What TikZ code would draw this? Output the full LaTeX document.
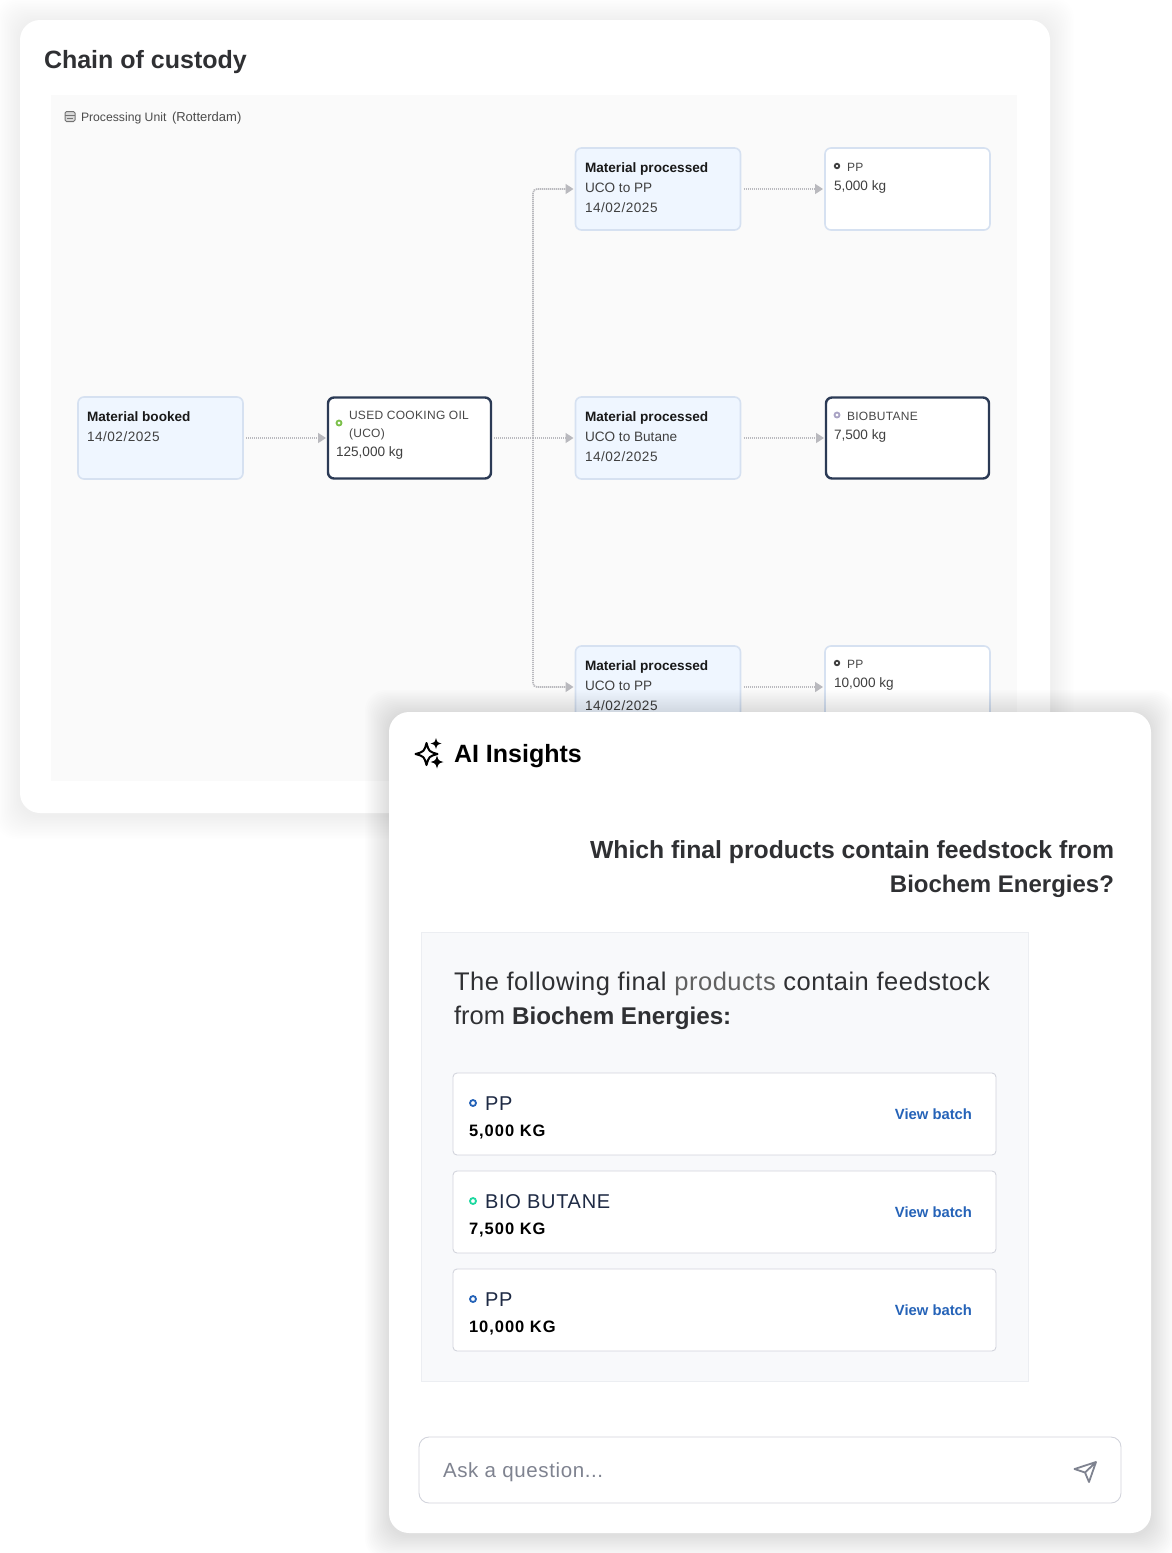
\documentclass[tikz,border=0pt]{standalone}
\usepackage{fontspec}
\setmainfont{Liberation Sans}
\usetikzlibrary{arrows.meta}
\definecolor{ink}{HTML}{2F3033}
\definecolor{lineg}{HTML}{B9B9BE}
\definecolor{bluefill}{HTML}{EFF6FF}
\definecolor{blueline}{HTML}{D6E1F1}
\definecolor{navy}{HTML}{2B3A55}
\definecolor{itemline}{HTML}{D2D4DC}
\definecolor{linkblue}{HTML}{2563B8}
\definecolor{greytxt}{HTML}{7F8390}
\definecolor{answerbg}{HTML}{F8F9FB}
\definecolor{answerline}{HTML}{ECEEF2}
\definecolor{itemink}{HTML}{1E2A44}
\definecolor{dotteal}{HTML}{1ED8A0}
\definecolor{dotlime}{HTML}{7CC04A}
\definecolor{dotlilac}{HTML}{A9A3C4}
\newcommand{\fs}[1]{\fontsize{#1}{#1}\selectfont}
\newcommand{\softshadow}[5]{%
  \foreach \i in {1,...,16}{
    \fill[black,opacity=#5,rounded corners=20pt] ({#1-\i*1.5},{#2-\i*1.5+2}) rectangle ({#3+\i*1.5},{#4+\i*1.5+2});
  }}
\newcommand{\sparkle}[3]{%
  (#1,#2-#3) .. controls (#1+.22*#3,#2-.22*#3) .. (#1+#3,#2) .. controls (#1+.22*#3,#2+.22*#3) .. (#1,#2+#3) .. controls (#1-.22*#3,#2+.22*#3) .. (#1-#3,#2) .. controls (#1-.22*#3,#2-.22*#3) .. cycle}
\tikzset{
  panel/.style={draw=none,fill=white,rounded corners=20pt,inner sep=0pt,outer sep=0pt},
  cardbase/.style={rounded corners=6pt,inner sep=0pt,outer sep=0pt,minimum width=165pt,minimum height=82pt},
  evcard/.style={cardbase,draw=blueline,line width=1.6pt,fill=bluefill},
  outcard/.style={cardbase,draw=blueline,line width=1.6pt,fill=white},
  selcard/.style={cardbase,draw=navy,line width=2.4pt,fill=white},
  itemcard/.style={draw=itemline,line width=.9pt,fill=white,rounded corners=4pt,minimum width=543pt,minimum height=82pt,inner sep=0pt,outer sep=0pt},
  txt/.style={anchor=base west,inner sep=0pt,outer sep=0pt,text=ink},
  rtxt/.style={anchor=base east,inner sep=0pt,outer sep=0pt,text=ink},
  small/.style={txt,font=\fs{13.6},text=black!75},
  smalld/.style={txt,font=\fs{13.6}\addfontfeature{LetterSpace=3.7},text=black!75},
  smallb/.style={txt,font=\fs{13.6}\bfseries,text=black!90},
  caps/.style={txt,font=\fs{12}\addfontfeature{LetterSpace=2.5},text=black!72},
  flow/.style={draw=lineg,line width=1.6pt,dash pattern=on 1.2pt off .8pt,-{Triangle[length=8pt,width=10pt,fill=lineg,sep=0pt]},shorten >=2pt,shorten <=3pt},
  flowfree/.style={draw=lineg,line width=1.6pt,dash pattern=on 1.2pt off .8pt},
  ringdot/.style={circle,draw=#1,line width=1.8pt,fill=white,minimum size=6pt,inner sep=0pt,outer sep=0pt},
  itemname/.style={txt,font=\fs{20}\addfontfeature{LetterSpace=3.5},text=itemink},
  itemkg/.style={txt,font=\fs{16.5}\bfseries\addfontfeature{LetterSpace=6},text=black},
  viewlink/.style={rtxt,font=\fs{14.8}\bfseries,text=linkblue},
}
\begin{document}
\begin{tikzpicture}[x=1pt,y=-1pt]
\useasboundingbox (0,0) rectangle (1171,1553);
\fill[white] (0,0) rectangle (1171,1553);
% first panel
\softshadow{20}{20}{1050}{813}{0.004}
\node[panel,minimum width=1030pt,minimum height=793pt] (custody) at (535,416.5) {};
\node[txt,font=\fs{25}\bfseries] (title) at (44,68) {Chain of custody};
\node[fill=black!2,inner sep=0pt,outer sep=0pt,minimum width=966pt,minimum height=686pt] (canvas) at (534,438) {};
% unit label
\draw[black!55,line width=1pt,fill=black!15,rounded corners=1.5pt] (65,111.5) rectangle (75,121.5);
\draw[black!55,line width=.8pt] (65,115) -- (75,115) (67,118.5) -- (73,118.5);
\node[txt,font=\fs{12.2},text=black!70] (unit) at (81,121) {Processing Unit};
\node[txt,font=\fs{13},text=black!70] (city) at (172,121) {(Rotterdam)};
% cards
\node[evcard] (booked) at (160.5,438) {};
\node[selcard,minimum width=163pt,minimum height=81pt] (uco) at (409.5,438) {};
\node[evcard] (procA) at (658,189) {};
\node[evcard] (procB) at (658,438) {};
\node[evcard] (procC) at (658,687) {};
\node[outcard] (outA) at (907.5,189) {};
\node[selcard,minimum width=163pt,minimum height=81pt] (outB) at (907.5,438) {};
\node[outcard] (outC) at (907.5,687) {};
% connectors
\coordinate (branch) at (533,438);
\draw[flow] (booked.east) -- (uco.west);
\draw[flowfree,shorten <=3pt] (uco.east) -- (branch);
\draw[flow,shorten <=0pt,rounded corners=4pt] (branch) |- (procA.west);
\draw[flow,shorten <=0pt] (branch) -- (procB.west);
\draw[flow,shorten <=0pt,rounded corners=4pt] (branch) |- (procC.west);
\draw[flow] (procA.east) -- (outA.west);
\draw[flow] (procB.east) -- (outB.west);
\draw[flow] (procC.east) -- (outC.west);
% card texts
\node[smallb] (t1) at (87,421) {Material booked};
\node[smalld] (t2) at (87,441) {14/02/2025};
\node[ringdot=dotlime,minimum size=5pt] (d1) at (339,423) {};
\node[caps] (t3) at (349,419) {USED COOKING OIL};
\node[caps] (t4) at (349,437) {(UCO)};
\node[small] (t5) at (336,456) {125,000 kg};
\node[smallb] (a1) at (585,172) {Material processed};
\node[small] (a2) at (585,192) {UCO to PP};
\node[smalld] (a3) at (585,212) {14/02/2025};
\node[smallb] (b1) at (585,421) {Material processed};
\node[small] (b2) at (585,441) {UCO to Butane};
\node[smalld] (b3) at (585,461) {14/02/2025};
\node[smallb] (c1) at (585,670) {Material processed};
\node[small] (c2) at (585,690) {UCO to PP};
\node[smalld] (c3) at (585,710) {14/02/2025};
\node[ringdot={black!75},minimum size=4.5pt] (d2) at (837,166) {};
\node[caps] (oa1) at (847,171) {PP};
\node[small] (oa2) at (834,190) {5,000 kg};
\node[ringdot=dotlilac,minimum size=5pt] (d3) at (837,415) {};
\node[caps] (ob1) at (847,420) {BIOBUTANE};
\node[small] (ob2) at (834,439) {7,500 kg};
\node[ringdot={black!75},minimum size=4.5pt] (d4) at (837,663) {};
\node[caps] (oc1) at (847,668) {PP};
\node[small] (oc2) at (834,687) {10,000 kg};
% AI panel
\softshadow{389}{712}{1151}{1533}{0.006}
\node[panel,minimum width=762pt,minimum height=821pt] (insights) at (770,1122.5) {};
\draw[black,line width=2pt,line join=round,fill=white] \sparkle{426.5}{754}{11};
\fill[black] \sparkle{436}{743.5}{5.5};
\fill[black] \sparkle{437}{762}{6.5};
\node[txt,font=\fs{25}\bfseries,text=black] (aititle) at (454,762) {AI Insights};
\node[rtxt,font=\fs{24.75}\bfseries] (q1) at (1114,858) {Which final products contain feedstock from};
\node[rtxt,font=\fs{24}\bfseries] (q2) at (1114,892) {Biochem Energies?};
\node[draw=answerline,line width=1pt,fill=answerbg,inner sep=0pt,outer sep=0pt,minimum width=607pt,minimum height=449pt] (answer) at (724.5,1156.5) {};
\node[txt,font=\fs{25.5}\addfontfeature{LetterSpace=2.1}] (ans1) at (454,990) {The following final {\color{black!62}products} contain feedstock};
\node[txt,font=\fs{25.5}] (ans2) at (454,1024) {from {\fs{24.2}\bfseries Biochem Energies:}};
% items
\node[itemcard] (item1) at (724.5,1114) {};
\node[itemcard] (item2) at (724.5,1212) {};
\node[itemcard] (item3) at (724.5,1310) {};
\node[ringdot={linkblue}] (i1d) at (473,1103) {};
\node[itemname] (i1n) at (485,1110) {PP};
\node[itemkg] (i1k) at (469,1136) {5,000 KG};
\node[viewlink] (i1v) at (972,1119) {View batch};
\node[ringdot=dotteal] (i2d) at (473,1201) {};
\node[itemname] (i2n) at (485,1208) {BIO BUTANE};
\node[itemkg] (i2k) at (469,1234) {7,500 KG};
\node[viewlink] (i2v) at (972,1217) {View batch};
\node[ringdot={linkblue}] (i3d) at (473,1299) {};
\node[itemname] (i3n) at (485,1306) {PP};
\node[itemkg] (i3k) at (469,1332) {10,000 KG};
\node[viewlink] (i3v) at (972,1315) {View batch};
% input
\node[draw=itemline,line width=.9pt,fill=white,rounded corners=10pt,inner sep=0pt,outer sep=0pt,minimum width=702pt,minimum height=66pt] (input) at (770,1470) {};
\node[txt,font=\fs{20.5}\addfontfeature{LetterSpace=3},text=greytxt] (ask) at (443,1477) {Ask a question...};
\draw[greytxt,line width=1.8pt,line join=round] (1096,1462) -- (1074.5,1469) -- (1085,1472.5) -- (1089,1482) -- cycle (1085,1472.5) -- (1096,1462);
\end{tikzpicture}
\end{document}
